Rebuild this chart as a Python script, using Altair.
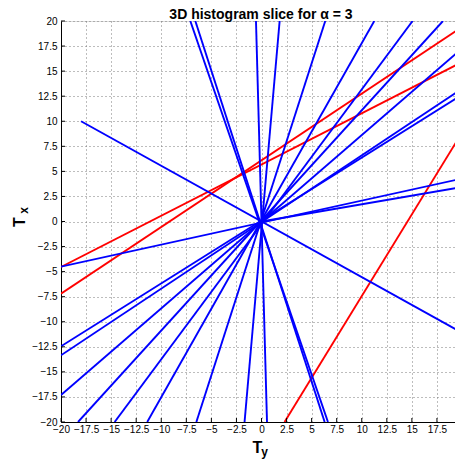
import altair as alt
import pandas as pd

# Blue lines: endpoints (Ty, Tx)
blue_x1 = [-7.1, -6.6, -0.55, 1.81, 6.36, 11.25, 15.07, 18.1, 20, 20, 20, 20, 0, -18]
blue_y1 = [20, 20, 20, 20, 20, 20, 20, 20, 17.25, 13.25, 12.65, 4.28, 0, 10]
blue_x2 = [6.63, 6.3, 0.55, -1.69, -6.5, -11.4, -14.65, -18.3, -20, -20, -20, -20, 20, 20]
blue_y2 = [-20, -20, -20, -20, -20, -20, -20, -20, -17.3, -13.35, -12.45, -4.5, 3.44, -11.1]

# Red lines: endpoints (Ty, Tx)
red_x1 = [-20, -20, 2.3]
red_y1 = [-4.54, -7.2, -20]
red_x2 = [20, 20, 20]
red_y2 = [15.9, 19.4, 8.87]

tick_values = [-20, -17.5, -15, -12.5, -10, -7.5, -5, -2.5, 0,
               2.5, 5, 7.5, 10, 12.5, 15, 17.5, 20]

title_text = "3D histogram slice for α = 3"
FONT = "Liberation Sans"

blue_df = pd.DataFrame({"x1": blue_x1, "y1": blue_y1, "x2": blue_x2, "y2": blue_y2})
red_df = pd.DataFrame({"x1": red_x1, "y1": red_y1, "x2": red_x2, "y2": red_y2})
ticks_df = pd.DataFrame({"t": tick_values})

xs = alt.Scale(domain=[-20, 20], nice=False, zero=False)
ys = alt.Scale(domain=[-20, 20], nice=False, zero=False)

common = dict(values=tick_values, format=".1~f", title=None, grid=True,
              gridDash=[1, 3], gridColor="#7a7a7a", gridWidth=1,
              ticks=False, labelOverlap=False,
              labelFlush=False, labelBound=False,
              labelFont=FONT, labelFontSize=10, labelColor="#000",
              domainColor="#000", domainWidth=1)
xaxis = alt.Axis(labelPadding=2, **common)
yaxis = alt.Axis(labelPadding=4, **common)

red = alt.Chart(red_df).mark_rule(color="#ff0000", strokeWidth=1.9, clip=True).encode(
    x=alt.X("x1:Q", scale=xs, axis=xaxis),
    y=alt.Y("y1:Q", scale=ys, axis=yaxis),
    x2="x2:Q", y2="y2:Q",
)

blue = alt.Chart(blue_df).mark_rule(color="#0000ff", strokeWidth=1.9, clip=True).encode(
    x=alt.X("x1:Q", scale=xs, axis=xaxis),
    y=alt.Y("y1:Q", scale=ys, axis=yaxis),
    x2="x2:Q", y2="y2:Q",
)

xticks = alt.Chart(ticks_df).mark_rule(color="#000", strokeWidth=1).encode(
    x=alt.X("t:Q", scale=xs, axis=xaxis),
    y=alt.datum(-20, scale=ys, axis=yaxis), y2=alt.datum(-19.6),
)
yticks = alt.Chart(ticks_df).mark_rule(color="#000", strokeWidth=1).encode(
    y=alt.Y("t:Q", scale=ys, axis=yaxis),
    x=alt.datum(-20, scale=xs, axis=xaxis), x2=alt.datum(-19.6),
)

title = alt.Chart(pd.DataFrame({"s": [title_text]})).mark_text(
    font=FONT, fontSize=14, fontWeight="bold", align="center", baseline="alphabetic", color="#000"
).encode(text="s:N", x=alt.value(200), y=alt.value(-2))

tx_T = alt.Chart(pd.DataFrame({"s": ["T"]})).mark_text(
    font=FONT, fontSize=16, fontWeight="bold", align="center", baseline="alphabetic", angle=270, color="#000"
).encode(text="s:N", x=alt.value(-36), y=alt.value(201))
tx_sub = alt.Chart(pd.DataFrame({"s": ["x"]})).mark_text(
    font=FONT, fontSize=12, fontWeight="bold", align="center", baseline="alphabetic", angle=270, color="#000"
).encode(text="s:N", x=alt.value(-33), y=alt.value(189.5))

ty_T = alt.Chart(pd.DataFrame({"s": ["T"]})).mark_text(
    font=FONT, fontSize=16, fontWeight="bold", align="center", baseline="alphabetic", color="#000"
).encode(text="s:N", x=alt.value(196.5), y=alt.value(432))
ty_sub = alt.Chart(pd.DataFrame({"s": ["y"]})).mark_text(
    font=FONT, fontSize=12, fontWeight="bold", align="center", baseline="alphabetic", color="#000"
).encode(text="s:N", x=alt.value(203.5), y=alt.value(435))

chart = alt.layer(red, blue, xticks, yticks, title, tx_T, tx_sub, ty_T, ty_sub).properties(
    width=401, height=401,
    autosize=alt.AutoSizeParams(type="none"),
    padding={"left": 53, "top": 13, "right": -7, "bottom": 39},
).configure_view(stroke=None).configure(background="#ffffff")

chart.save("out.html", embed_options={"renderer": "svg", "actions": False})
